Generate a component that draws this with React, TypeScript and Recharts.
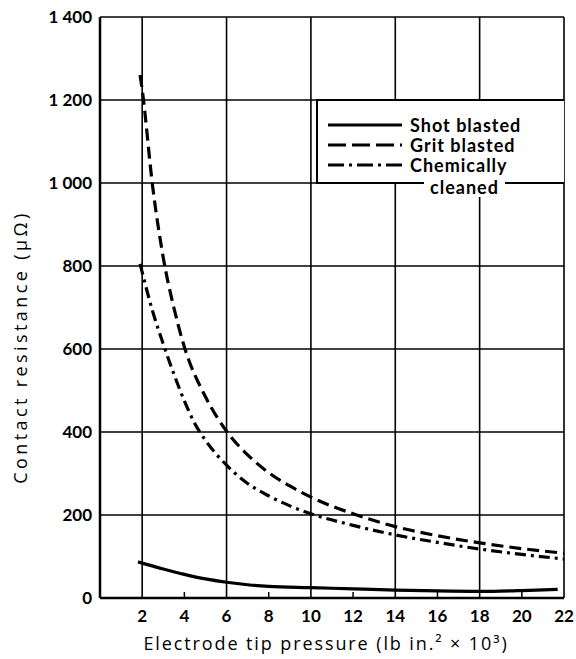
import React from 'react';
import {
  LineChart,
  Line,
  XAxis,
  YAxis,
  CartesianGrid,
  ReferenceLine,
  Legend,
} from 'recharts';

// pressure (lb in.^-2 x 10^3) vs contact resistance (micro-ohm)
const shotX = [1.8, 2, 3, 4, 5, 6, 7, 8, 10, 12, 14, 16, 18, 20, 21.7];
const shotY = [87, 84, 70, 57, 46, 38, 32, 28, 25, 22, 19, 17, 16, 18, 21];

const gritX = [1.9, 2, 2.5, 3, 3.5, 4, 5, 6, 7, 8, 9, 10, 12, 14, 16, 18, 20, 22];
const gritY = [1260, 1225, 990, 820, 700, 605, 485, 402, 345, 302, 270, 243, 203, 172, 150, 133, 119, 108];

const chemX = [1.9, 2, 2.5, 3, 3.5, 4, 4.5, 5, 6, 7, 8, 9, 10, 12, 14, 16, 18, 20, 22];
const chemY = [805, 785, 690, 612, 540, 475, 420, 380, 320, 276, 246, 222, 203, 175, 152, 134, 118, 105, 94];

const xTicks = [2, 4, 6, 8, 10, 12, 14, 16, 18, 20, 22];
const xGrid = [2, 6, 10, 14, 18, 22];
const yTicks = [0, 200, 400, 600, 800, 1000, 1200, 1400];

const toPoints = (xs: number[], ys: number[]) => xs.map((x, i) => ({ x, y: ys[i] }));

const series = [
  { name: 'Shot blasted', data: toPoints(shotX, shotY), dash: undefined as string | undefined, legendDash: undefined as string | undefined },
  { name: 'Grit blasted', data: toPoints(gritX, gritY), dash: '12 6', legendDash: '18 6' },
  { name: 'Chemically cleaned', data: toPoints(chemX, chemY), dash: '11 5 3 5', legendDash: '16 5 3 5' },
];

const FONT = 'Lato, "Open Sans", sans-serif';
const LABEL_FONT = '"Open Sans", Lato, sans-serif';

const fmtY = (v: number) =>
  v >= 1000 ? `${Math.floor(v / 1000)} ${String(v % 1000).padStart(3, '0')}` : String(v);

const XTick = (props: any) => {
  const { x, y, payload } = props;
  const minor = payload.value % 4 === 0;
  return (
    <g>
      {minor && <line x1={x} x2={x} y1={y} y2={y - 6} stroke="#000" strokeWidth={1.5} />}
      <text x={x} y={y + 24} textAnchor="middle" fontSize={17} fontWeight={700} fontFamily={FONT} fill="#000">
        {payload.value}
      </text>
    </g>
  );
};

const YTick = (props: any) => {
  const { x, y, payload } = props;
  return (
    <text x={x - 8} y={y + 6} textAnchor="end" fontSize={17} fontWeight={700} fontFamily={FONT} fill="#000">
      {fmtY(payload.value)}
    </text>
  );
};

// y title sits a bit below the middle of the plot in the original
const YTitle = (props: any) => {
  const { viewBox } = props;
  const cx = 20;
  const cy = viewBox.y + viewBox.height * 0.568;
  return (
    <text
      x={cx}
      y={cy}
      transform={`rotate(-90, ${cx}, ${cy})`}
      textAnchor="middle"
      dominantBaseline="central"
      fontSize={18}
      fontFamily={LABEL_FONT}
      fontWeight={500}
      letterSpacing={3.4}
      fill="#000"
    >
      Contact resistance (μΩ)
    </text>
  );
};

const renderLegend = () => (
  <div
    style={{
      position: 'relative',
      width: 248,
      height: 85,
      background: '#fff',
      borderLeft: '2px solid #000',
      borderTop: '2px solid #000',
      borderBottom: '2px solid #000',
      fontFamily: FONT,
      fontSize: 18,
      fontWeight: 700,
      letterSpacing: 1,
      color: '#000',
      boxSizing: 'border-box',
    }}
  >
    {series.map((s, i) => (
      <div key={s.name} style={{ position: 'absolute', left: 10, top: 14 + i * 20, display: 'flex', alignItems: 'center', height: 20 }}>
        <svg width={74} height={8} style={{ display: 'block' }}>
          <line x1={0} x2={74} y1={4} y2={4} stroke="#000" strokeWidth={3} strokeDasharray={s.legendDash} />
        </svg>
        <span style={{ marginLeft: 8, lineHeight: '20px', whiteSpace: 'nowrap' }}>
          {i === 2 ? 'Chemically' : s.name}
        </span>
      </div>
    ))}
    <div
      style={{
        position: 'absolute',
        left: 106,
        top: 76,
        padding: '0 6px',
        background: '#fff',
        lineHeight: '20px',
      }}
    >
      cleaned
    </div>
  </div>
);

export default function App() {
  return (
    <div style={{ position: 'absolute', left: 0, top: 0, width: 576, height: 659, background: '#fff' }}>
      <LineChart width={576} height={659} margin={{ top: 17, right: 12, bottom: 0, left: 0 }}>
        <CartesianGrid vertical={false} stroke="#000" strokeWidth={1.6} />
        {xGrid.map((v) => (
          <ReferenceLine key={v} x={v} stroke="#000" strokeWidth={1.6} />
        ))}
        <XAxis
          dataKey="x"
          type="number"
          domain={[0, 22]}
          ticks={xTicks}
          interval={0}
          height={61}
          tickSize={0}
          tickMargin={0}
          tick={<XTick />}
          axisLine={{ stroke: '#000', strokeWidth: 2.5 }}
          tickLine={false}
          allowDataOverflow
          label={{
            value: 'Electrode tip pressure (lb in.² × 10³)',
            position: 'insideBottom',
            offset: 9,
            dx: -6,
            fontSize: 18,
            fontFamily: LABEL_FONT,
            fontWeight: 500,
            letterSpacing: 1.9,
            fill: '#000',
          }}
        />
        <YAxis
          type="number"
          domain={[0, 1400]}
          ticks={yTicks}
          interval={0}
          width={100}
          tickSize={0}
          tickMargin={0}
          tick={<YTick />}
          axisLine={{ stroke: '#000', strokeWidth: 2.5 }}
          tickLine={false}
          label={<YTitle />}
        />
        {series.map((s) => (
          <Line
            key={s.name}
            data={s.data}
            dataKey="y"
            name={s.name}
            type="monotone"
            stroke="#000"
            strokeWidth={3.2}
            strokeDasharray={s.dash}
            dot={false}
            isAnimationActive={false}
          />
        ))}
        <Legend
          layout="vertical"
          align="center"
          verticalAlign="middle"
          content={renderLegend}
          wrapperStyle={{ position: 'absolute', left: 316, top: 99, width: 248, height: 85 }}
        />
      </LineChart>
    </div>
  );
}
